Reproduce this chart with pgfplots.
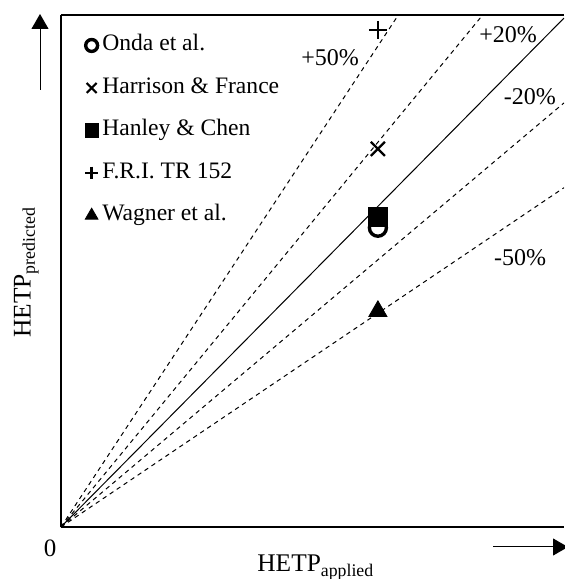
\documentclass[border=0pt]{standalone}
\usepackage{fontspec}
\setmainfont{Liberation Serif}
\usepackage{pgfplots}
\pgfplotsset{compat=1.18}
\usetikzlibrary{arrows.meta}
\begin{document}
\begin{tikzpicture}[x=1pt,y=1pt]
\useasboundingbox (0,0) rectangle (282,289.5);
\begin{axis}[
  at={(30.5pt,26pt)}, anchor=south west,
  scale only axis, width=251.5pt, height=256pt,
  xmin=0, xmax=1, ymin=0, ymax=1.006,
  axis x line*=bottom, axis y line*=left,
  axis line style={-, line width=1pt},
  xtick=\empty, ytick=\empty,
  font=\fontsize{12}{14}\selectfont,
  legend style={at={(axis description cs:0.0477,0.961)}, anchor=north west,
    draw=none, fill=none, inner sep=0pt, outer sep=0pt,
    row sep=10.75pt, column sep=2pt,
    nodes={inner sep=0pt, text height=8pt, text depth=2.5pt},
    font=\fontsize{11.8}{14}\selectfont},
  legend cell align=left,
  legend image code/.code={\draw[#1, every mark/.append style={scale=0.7}] plot coordinates {(0pt,0pt)};},
]
\addplot[forget plot, black, line width=0.5pt] coordinates {(0,0) (1,1)};
\addplot[forget plot, black, line width=0.5pt, dash pattern=on 2.2pt off 2pt] coordinates {(0,0) (1,1.5)};
\addplot[forget plot, black, line width=0.5pt, dash pattern=on 2.2pt off 2pt] coordinates {(0,0) (1,1.2)};
\addplot[forget plot, black, line width=0.5pt, dash pattern=on 2.2pt off 2pt] coordinates {(0,0) (1,0.8333)};
\addplot[forget plot, black, line width=0.5pt, dash pattern=on 2.2pt off 2pt] coordinates {(0,0) (1,0.6667)};

\addplot[only marks, black, mark=o, mark size=4.25pt, mark options={line width=1.7pt}] coordinates {(0.630,0.588)};
\addlegendentry{Onda et al.}
\addplot[only marks, black, mark=x, mark size=5pt, mark options={line width=1.1pt}] coordinates {(0.630,0.743)};
\addlegendentry{Harrison \& France}
\addplot[only marks, black, mark=square*, mark size=4.75pt, mark options={fill=black}] coordinates {(0.630,0.609)};
\addlegendentry{Hanley \& Chen}
\addplot[only marks, black, mark=+, mark size=4.5pt, mark options={line width=1.25pt}] coordinates {(0.630,0.977)};
\addlegendentry{F.R.I. TR 152}
\addplot[only marks, black, mark=triangle*, mark size=5.2pt, mark options={fill=black}] coordinates {(0.630,0.424)};
\addlegendentry{Wagner et al.}

\node at (axis cs:0.535,0.922) {+50\%};
\node at (axis cs:0.889,0.967) {+20\%};
\node at (axis cs:0.932,0.845) {-20\%};
\node at (axis cs:0.913,0.529) {-50\%};
\draw[line width=0.75pt] (rel axis cs:0,1) -- (rel axis cs:1,1);
\end{axis}
\draw[line width=0.5pt, -{Triangle[length=7.5pt,width=8.5pt]}] (20,244.5) -- (20,282.5);
\draw[line width=0.5pt, -{Triangle[length=7.5pt,width=8.5pt]}] (246.5,16) -- (284,16);
\node[font=\fontsize{12.5}{15}\selectfont] at (25,15.5) {0};
\node[rotate=90, anchor=base west, inner sep=0pt, font=\fontsize{12.7}{15}\selectfont] at (15.35,120.5) {HETP\textsubscript{predicted}};
\node[anchor=base west, inner sep=0pt, font=\fontsize{12.7}{15}\selectfont] at (128.5,3.5) {HETP\textsubscript{applied}};
\end{tikzpicture}
\end{document}
